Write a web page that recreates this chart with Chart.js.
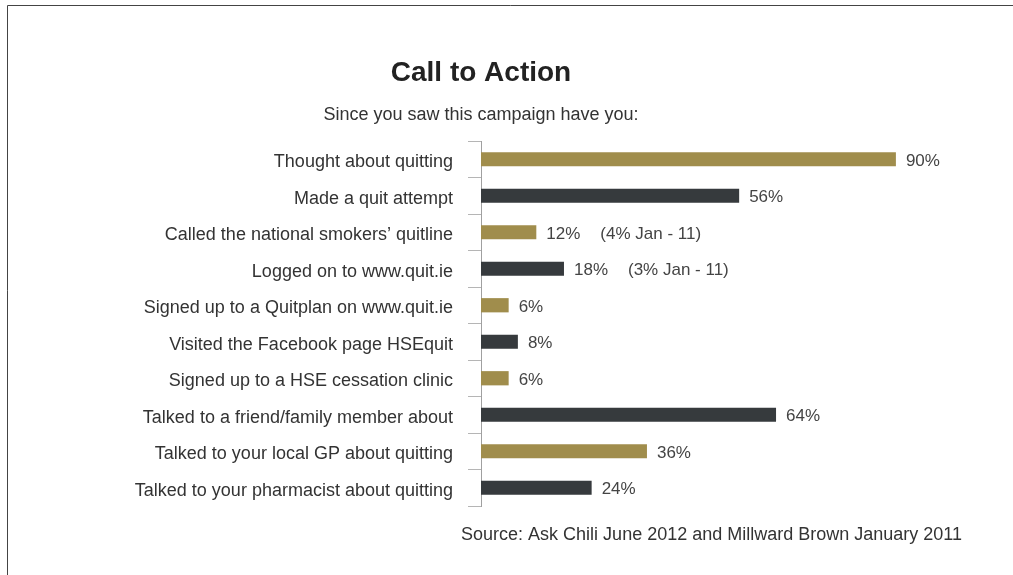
<!DOCTYPE html>
<html>
<head>
<meta charset="utf-8">
<title>Call to Action</title>
<script src="https://cdn.jsdelivr.net/npm/chart.js@4"></script>
<style>
  html, body { margin: 0; padding: 0; background: #fff; }
  #wrap { position: relative; width: 1013px; height: 575px; }
</style>
</head>
<body>
<div id="wrap"><canvas id="action-chart" width="1013" height="575"></canvas></div>
<script>
var categories = [
    "Thought about quitting",
    "Made a quit attempt",
    "Called the national smokers\u2019 quitline",
    "Logged on to www.quit.ie",
    "Signed up to a Quitplan on www.quit.ie",
    "Visited the Facebook page HSEquit",
    "Signed up to a HSE cessation clinic",
    "Talked to a friend/family member about",
    "Talked to your local GP about quitting",
    "Talked to your pharmacist about quitting"
];
var percents = [90, 56, 12, 18, 6, 8, 6, 64, 36, 24];
// earlier wave figures shown next to some bars
var notes = ["", "", "(4% Jan - 11)", "(3% Jan - 11)", "", "", "", "", "", ""];

var GOLD = "#a08d4c";
var DARK = "#363a3d";
var TEXT = "#333333";
var FONT = "'Liberation Sans', Arial, Helvetica, sans-serif";

var barColors = percents.map(function (v, i) { return i % 2 == 0 ? GOLD : DARK; });

// title, subtitle, source line, frame and value labels
var decorations = {
    id: 'decorations',
    afterDraw: function (chart) {
        var ctx = chart.ctx;
        var area = chart.chartArea;
        ctx.save();

        ctx.strokeStyle = "#444";
        ctx.lineWidth = 1;
        ctx.beginPath();
        ctx.moveTo(7.5, 575);
        ctx.lineTo(7.5, 5.5);
        ctx.lineTo(1013, 5.5);
        ctx.stroke();

        ctx.fillStyle = "#222";
        ctx.textAlign = "center";
        ctx.textBaseline = "alphabetic";
        ctx.font = "bold 28px " + FONT;
        ctx.fillText("Call to Action", area.left, 81);

        ctx.fillStyle = TEXT;
        ctx.font = "18px " + FONT;
        ctx.fillText("Since you saw this campaign have you:", area.left, 120);

        ctx.textAlign = "right";
        ctx.fillText("Source: Ask Chili June 2012 and Millward Brown January 2011", 962, 540);

        var meta = chart.getDatasetMeta(0);
        ctx.textAlign = "left";
        ctx.textBaseline = "middle";
        ctx.fillStyle = "#444";
        ctx.font = "17px " + FONT;
        meta.data.forEach(function (bar, i) {
            var label = percents[i] + "%";
            var x = bar.x + 10;
            var y = bar.y + 2;
            ctx.fillText(label, x, y);
            if (notes[i]) {
                ctx.fillText(notes[i], x + ctx.measureText(label).width + 20, y);
            }
        });
        ctx.restore();
    }
};

var config = {
    type: 'bar',
    data: {
        labels: categories,
        datasets: [{
            data: percents,
            backgroundColor: barColors,
            borderWidth: 0,
            categoryPercentage: 1,
            barPercentage: 0.39
        }]
    },
    options: {
        indexAxis: 'y',
        responsive: false,
        animation: false,
        layout: {
            padding: { top: 141, bottom: 69, left: 0, right: 71 }
        },
        plugins: {
            legend: { display: false },
            tooltip: { enabled: false }
        },
        scales: {
            x: {
                display: false,
                min: 0,
                max: 100
            },
            y: {
                afterFit: function (scale) { scale.width = 481; },
                border: { display: true, color: "#a0a0a0", width: 1 },
                grid: {
                    offset: true,
                    drawOnChartArea: false,
                    drawTicks: true,
                    tickLength: 13,
                    color: "#b5b5b5"
                },
                ticks: {
                    padding: 15,
                    labelOffset: 3,
                    color: TEXT,
                    font: { family: FONT, size: 18 }
                }
            }
        }
    },
    plugins: [decorations]
};

var ctx = document.getElementById('action-chart').getContext('2d');
var chart = new Chart(ctx, config);
</script>
</body>
</html>
